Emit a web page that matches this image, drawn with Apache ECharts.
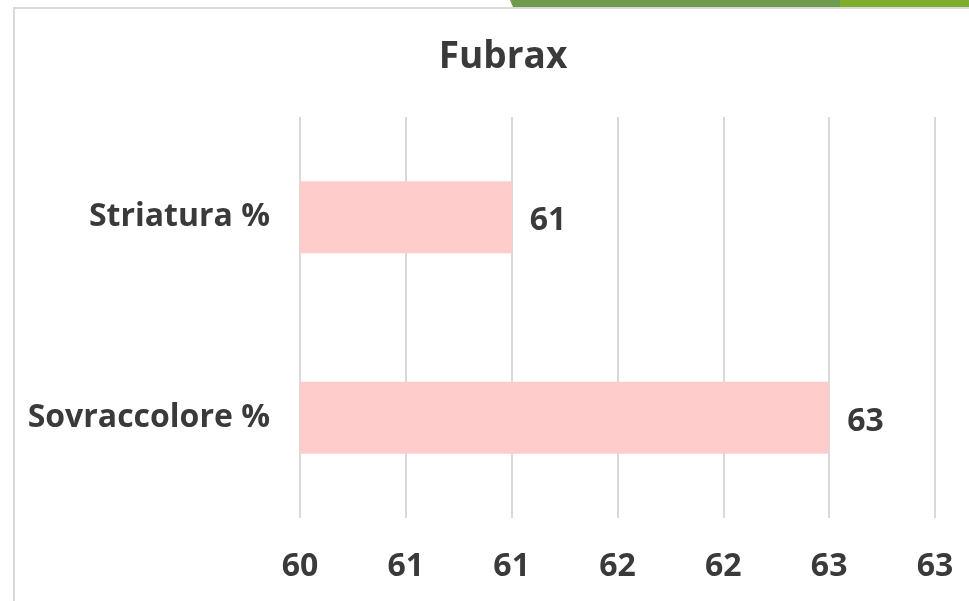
<!DOCTYPE html>
<html>
<head>
<meta charset="utf-8">
<script src="https://cdn.jsdelivr.net/npm/echarts@6/dist/echarts.min.js"></script>
<style>
  html, body { margin: 0; padding: 0; background: #fff; }
  #chart { width: 969px; height: 601px; }
</style>
</head>
<body>
<div id="chart"></div>
<script>
// categorie dal basso verso l'alto (asse category di echarts)
var categories = ['Sovraccolore %', 'Striatura %'];
var values = [62.5, 61];
var axisMin = 60, axisMax = 63, axisStep = 0.5;

var chart = echarts.init(document.getElementById('chart'));
var font = '"Open Sans", "DejaVu Sans", sans-serif';

var option = {
  backgroundColor: '#fff',
  animation: false,
  title: {
    text: 'Fubrax',
    left: 498,
    top: 34,
    textAlign: 'center',
    textStyle: { fontFamily: font, fontSize: 37, fontWeight: 'bold', color: '#3a3a3a' }
  },
  graphic: [
    // cornice
    { type: 'rect', shape: { x: 14, y: 8, width: 1000, height: 700 },
      style: { fill: 'none', stroke: '#d9d9d9', lineWidth: 2 }, z: -1 },
    // banda verde in alto
    { type: 'polygon', shape: { points: [[510, 0], [969, 0], [969, 7], [513, 7]] },
      style: { fill: '#6f9b50' } },
    { type: 'rect', shape: { x: 840, y: 0, width: 129, height: 7 },
      style: { fill: '#7fae2f' } }
  ],
  grid: { left: 300, right: 34, top: 117, bottom: 83 },
  xAxis: {
    type: 'value',
    min: axisMin,
    max: axisMax,
    interval: axisStep,
    axisLine: { show: false },
    axisTick: { show: false },
    splitLine: { lineStyle: { color: '#d9d9d9', width: 2 } },
    axisLabel: {
      margin: 33,
      fontFamily: font, fontSize: 32, fontWeight: 'bold', color: '#3a3a3a',
      formatter: function (v) { return Math.round(v); }
    }
  },
  yAxis: {
    type: 'category',
    data: categories,
    axisLine: { show: false },
    axisTick: { show: false },
    axisLabel: {
      margin: 30,
      fontFamily: font, fontSize: 32, fontWeight: 'bold', color: '#3a3a3a'
    }
  },
  series: [{
    type: 'bar',
    data: values,
    barWidth: 72,
    itemStyle: { color: '#ffcccc' },
    label: {
      show: true,
      position: 'right',
      distance: 18,
      offset: [0, 4],
      fontFamily: font, fontSize: 32, fontWeight: 'bold', color: '#3a3a3a',
      formatter: function (p) { return Math.round(p.value); }
    }
  }]
};
chart.setOption(option);
</script>
</body>
</html>
